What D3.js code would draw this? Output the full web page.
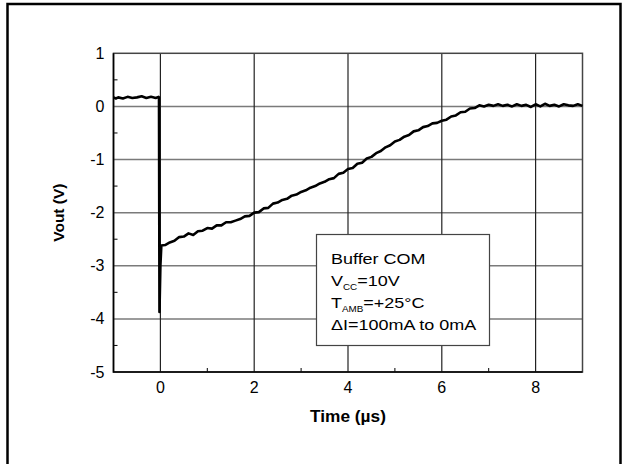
<!DOCTYPE html>
<html>
<head>
<meta charset="utf-8">
<script src="https://cdn.jsdelivr.net/npm/d3@7"></script>
<style>
  body { margin: 0; background: #fff; }
  text { font-family: "Liberation Sans", Arial, sans-serif; fill: #000; }
</style>
</head>
<body>
<svg id="chart" width="622" height="464"></svg>
<script>
// trace before the step (time in us, volts)
var pre_time = [-1.0, -0.95, -0.9, -0.8, -0.7, -0.6, -0.5, -0.4, -0.3, -0.2, -0.1, -0.04];
var pre_vout = [0.17, 0.15, 0.17, 0.15, 0.18, 0.16, 0.17, 0.19, 0.16, 0.18, 0.16, 0.18];

// the spike at t = 0
var spike_time = [-0.03, -0.02, 0.0, 0.02];
var spike_vout = [0.17, -3.87, -3.0, -2.62];

// recovery after the step, every 0.1 us from 0.1 to 9.0
var post_vout = [
  -2.61, -2.56, -2.53, -2.46, -2.45, -2.39, -2.42, -2.35, -2.34, -2.29,
  -2.30, -2.24, -2.24, -2.18, -2.18, -2.15, -2.12, -2.07, -2.06, -2.00,
  -1.99, -1.92, -1.91, -1.83, -1.81, -1.76, -1.74, -1.68, -1.66, -1.61,
  -1.58, -1.53, -1.50, -1.45, -1.42, -1.37, -1.35, -1.27, -1.25, -1.18,
  -1.16, -1.08, -1.06, -0.98, -0.95, -0.88, -0.84, -0.77, -0.73, -0.66,
  -0.63, -0.57, -0.54, -0.47, -0.45, -0.39, -0.37, -0.32, -0.31, -0.27,
  -0.25, -0.19, -0.17, -0.11, -0.10, -0.04, -0.03, 0.02, 0.00, 0.03,
  0.01, 0.04, 0.01, 0.03, 0.00, 0.04, 0.01, 0.03, -0.01, 0.04,
  0.00, 0.05, 0.01, 0.03, 0.00, 0.04, 0.02, 0.01, 0.04, 0.01
];

var x_major = [0, 2, 4, 6, 8];
var x_minor = [1, 3, 5, 7];
var y_major = [1, 0, -1, -2, -3, -4, -5];
var y_minor = [0.5, -0.5, -1.5, -2.5, -3.5, -4.5];

var legend_lines = [
  [["Buffer COM", false]],
  [["V", false], ["CC", true], ["=10V", false]],
  [["T", false], ["AMB", true], ["=+25°C", false]],
  [["\u0394I=100mA to 0mA", false]]
];

var plot_left = 113.5, plot_right = 582.5,
    plot_top = 53.3, plot_bottom = 372;

var svg = d3.select("#chart");

// outer frame (bottom edge runs off the page)
svg.append("rect")
    .attr("x", 7.5).attr("y", 4)
    .attr("width", 613).attr("height", 480)
    .attr("fill", "none").attr("stroke", "#000").attr("stroke-width", 2.5);

var x = d3.scaleLinear().domain([-1, 9]).range([plot_left, plot_right]);
var y = d3.scaleLinear().domain([-5, 1]).range([plot_bottom, plot_top]);

// grid
svg.append("g").selectAll("line").data(y_major.slice(1, -1)).join("line")
    .attr("x1", plot_left).attr("x2", plot_right)
    .attr("y1", function (d) { return y(d); }).attr("y2", function (d) { return y(d); })
    .attr("stroke", "#7a7a7a").attr("stroke-width", 1.5);
svg.append("g").selectAll("line").data(x_major).join("line")
    .attr("y1", plot_top).attr("y2", plot_bottom)
    .attr("x1", function (d) { return x(d); }).attr("x2", function (d) { return x(d); })
    .attr("stroke", "#222").attr("stroke-width", 1.2);

// minor ticks, pointing inward
svg.append("g").selectAll("line").data(y_minor).join("line")
    .attr("x1", plot_left).attr("x2", plot_left + 4)
    .attr("y1", function (d) { return y(d); }).attr("y2", function (d) { return y(d); })
    .attr("stroke", "#000").attr("stroke-width", 1);
svg.append("g").selectAll("line").data(x_minor).join("line")
    .attr("y1", plot_bottom).attr("y2", plot_bottom - 4)
    .attr("x1", function (d) { return x(d); }).attr("x2", function (d) { return x(d); })
    .attr("stroke", "#000").attr("stroke-width", 1);

// plot border
svg.append("rect")
    .attr("x", plot_left).attr("y", plot_top)
    .attr("width", plot_right - plot_left).attr("height", plot_bottom - plot_top)
    .attr("fill", "none").attr("stroke", "#444").attr("stroke-width", 1.5);
svg.append("path")
    .attr("d", "M" + plot_left + "," + plot_top + "V" + plot_bottom + "H" + plot_right)
    .attr("fill", "none").attr("stroke", "#000").attr("stroke-width", 1.6);

// tick labels
svg.append("g").selectAll("text").data(y_major).join("text")
    .attr("x", plot_left - 9).attr("y", function (d) { return y(d) + 5.5; })
    .attr("text-anchor", "end").style("font-size", "16px")
    .text(function (d) { return d; });
svg.append("g").selectAll("text").data(x_major).join("text")
    .attr("x", function (d) { return x(d); }).attr("y", plot_bottom + 21)
    .attr("text-anchor", "middle").style("font-size", "16px")
    .text(function (d) { return d; });

// axis titles (the source glyphs are a bit wide, hence the x stretch)
svg.append("text")
    .attr("transform", "translate(" + (plot_left + plot_right) / 2 + ",421.5) scale(1.08,1)")
    .attr("text-anchor", "middle")
    .style("font-size", "16px").style("font-weight", "bold")
    .text("Time (\u00b5s)");
svg.append("text")
    .attr("transform", "translate(64," + (plot_top + plot_bottom) / 2 + ") rotate(-90)")
    .attr("text-anchor", "middle")
    .style("font-size", "15.5px").style("font-weight", "bold")
    .text("Vout (V)");

// trace
var points = [];
pre_time.forEach(function (t, i) { points.push([t, pre_vout[i]]); });
spike_time.forEach(function (t, i) { points.push([t, spike_vout[i]]); });
post_vout.forEach(function (v, i) { points.push([+(0.1 * (i + 1)).toFixed(1), v]); });

var line = d3.line()
    .x(function (d) { return x(d[0]); })
    .y(function (d) { return y(d[1]); });

svg.append("path")
    .datum(points)
    .attr("d", line)
    .attr("fill", "none").attr("stroke", "#000")
    .attr("stroke-width", 2.6).attr("stroke-linejoin", "round");

// legend box
var legend = svg.append("g");
legend.append("rect")
    .attr("x", 316.5).attr("y", 234.5).attr("width", 173).attr("height", 111)
    .attr("fill", "#fff").attr("stroke", "#444").attr("stroke-width", 1.2);

legend_lines.forEach(function (parts, i) {
  var t = legend.append("text")
      .attr("transform", "translate(331," + (263.5 + i * 22.3) + ") scale(1.16,1)")
      .style("font-size", "15.5px");
  parts.forEach(function (p, j) {
    var span = t.append("tspan").text(p[0]);
    if (p[1]) {
      span.style("font-size", "8.5px").attr("dy", 4);
    } else if (j > 0 && parts[j - 1][1]) {
      span.attr("dy", -4);
    }
  });
});
</script>
</body>
</html>
